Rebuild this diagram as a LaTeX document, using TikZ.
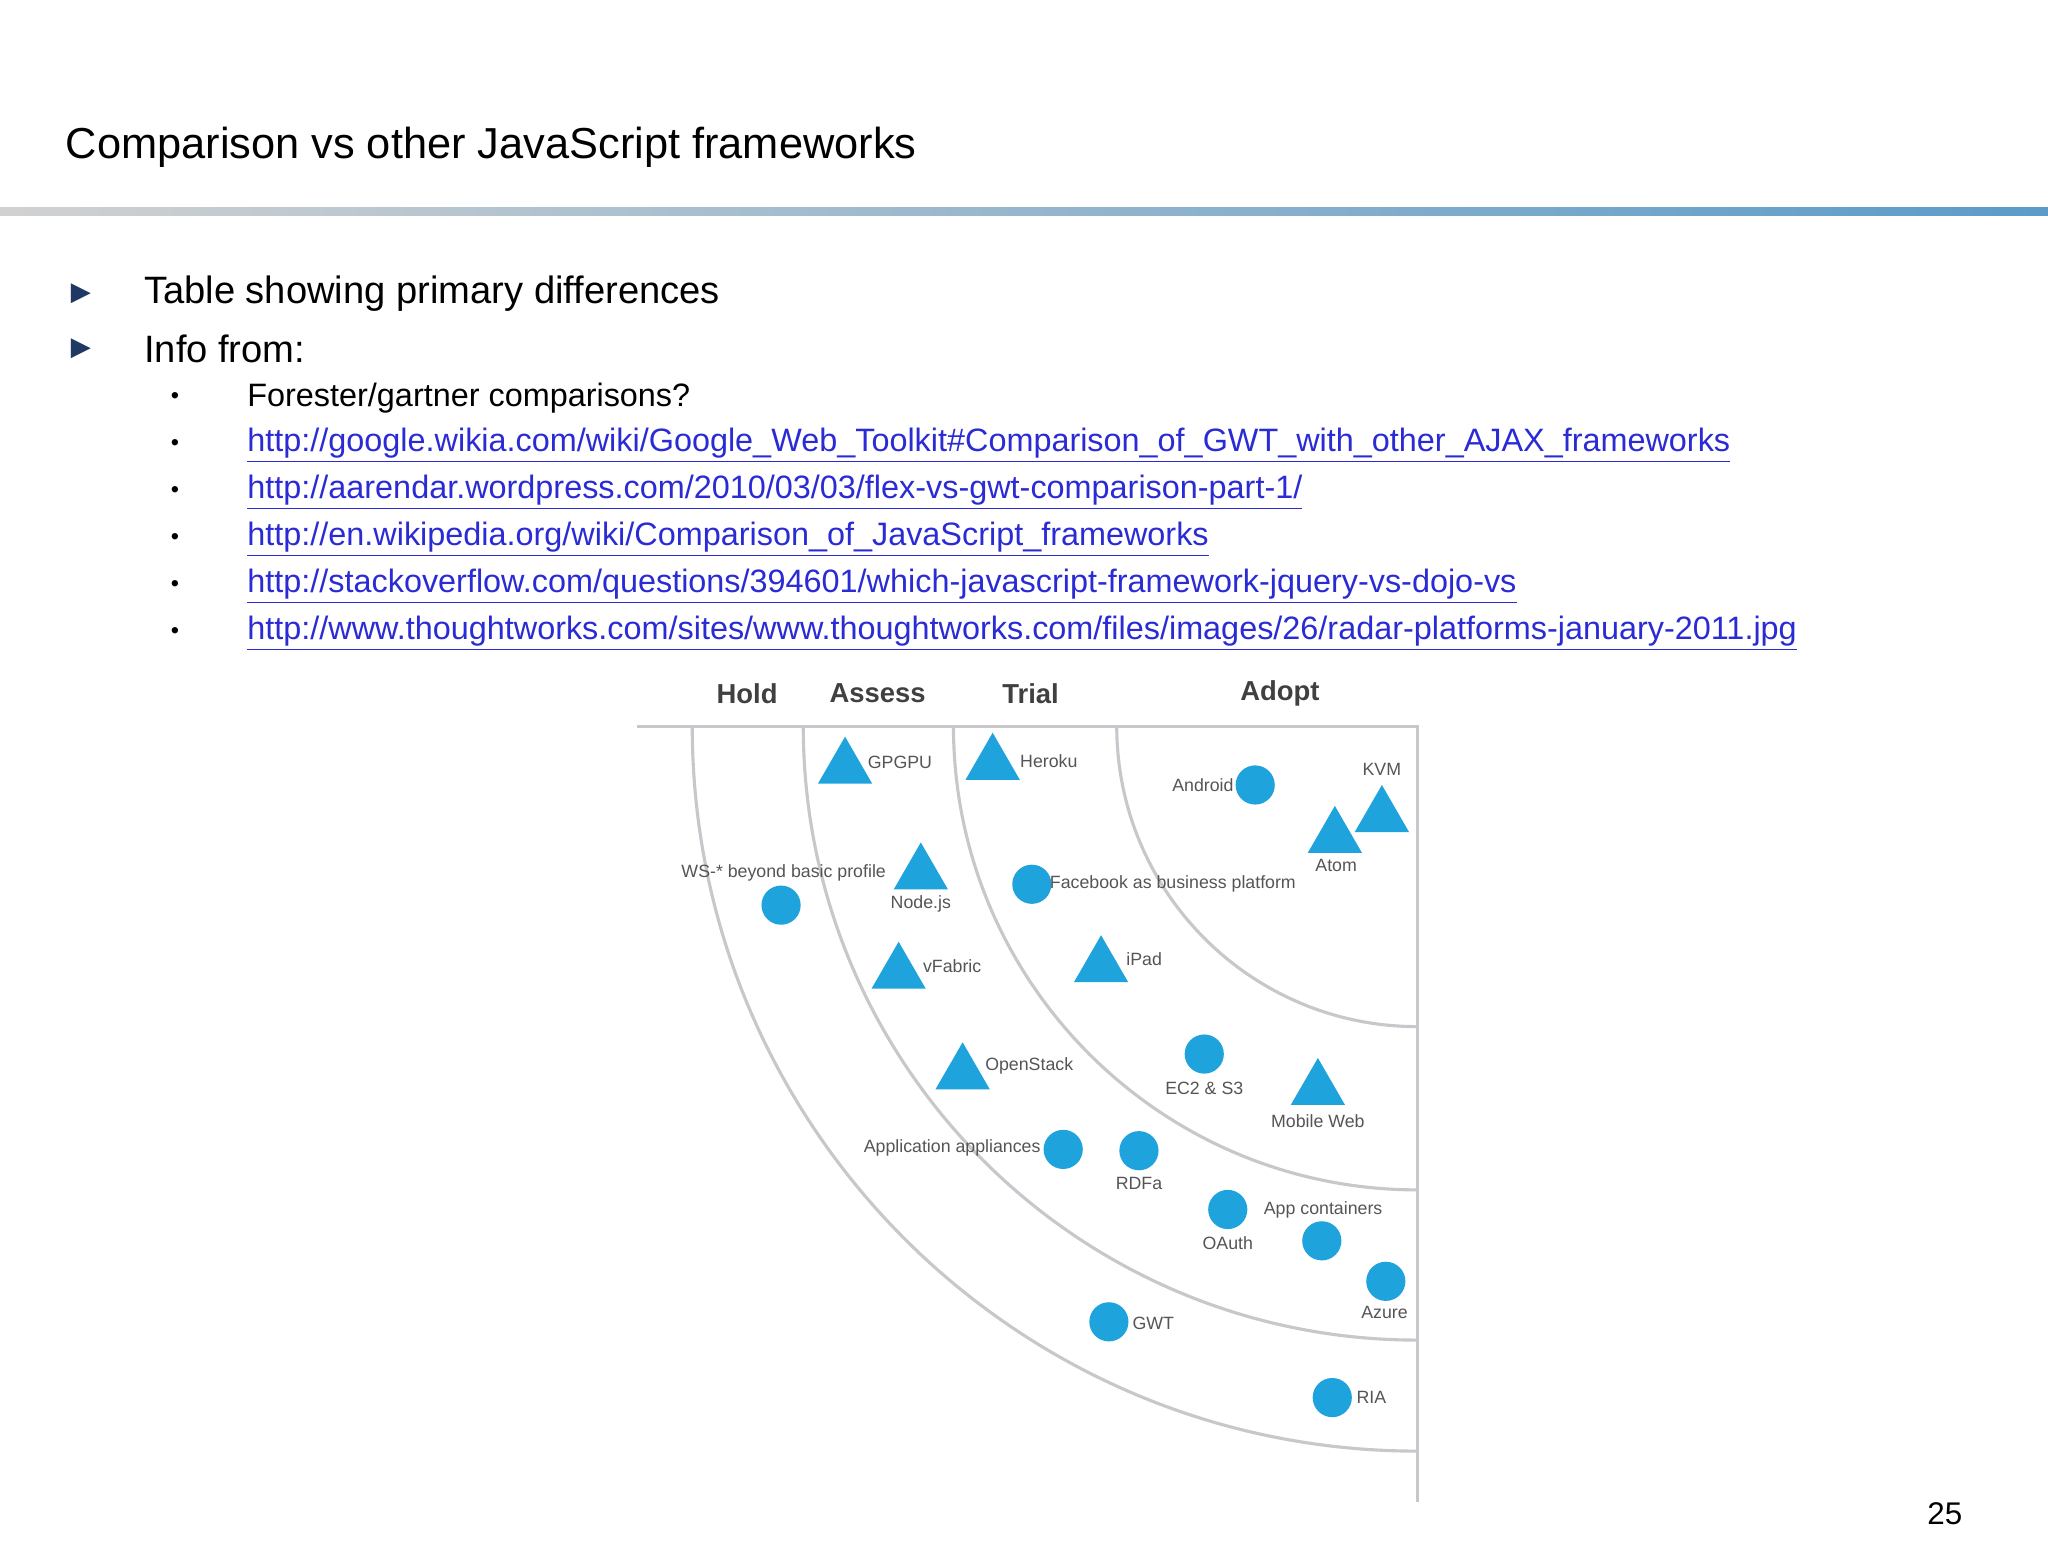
\documentclass[tikz,border=0pt]{standalone}
\usepackage{fontspec}
\usetikzlibrary{shapes.geometric}
\setmainfont{Liberation Sans}
\newfontfamily\dejavu{DejaVu Sans}
\definecolor{radblue}{HTML}{1FA3DC}
\definecolor{linkblue}{HTML}{2B2BD6}
\definecolor{navy}{HTML}{1F3864}
\definecolor{arcgray}{HTML}{C8C8CC}
\definecolor{lblgray}{HTML}{555555}
\definecolor{barblue}{HTML}{5B9BC8}
\begin{document}
\begin{tikzpicture}[x=0.5pt,y=-0.5pt,
  tri/.style={regular polygon,regular polygon sides=3,fill=radblue,inner sep=0pt,minimum size=24pt},
  dot/.style={circle,fill=radblue,inner sep=0pt,minimum size=15pt},
  lbl/.style={font=\fontsize{6.8}{8}\selectfont,text=lblgray,inner sep=1pt},
  hdr/.style={font=\fontsize{10.5}{12}\selectfont\bfseries,text=black!75},
  sub/.style={font=\fontsize{12.4}{14}\selectfont,anchor=west,inner sep=0pt},
  lnk/.style={sub,text=linkblue}]
\useasboundingbox (0,0) rectangle (1568,1194);
\fill[white] (0,0) rectangle (1568,1194);
\shade[left color=black!18,right color=barblue] (0,159) rectangle (1568,165);
\node[anchor=west,inner sep=0pt,font=\fontsize{16.6}{19}\selectfont] (title) at (50,113) {Comparison vs other JavaScript frameworks};
\node[text=navy,font=\dejavu\fontsize{10}{13}\selectfont] (b1) at (62,225) {▶};
\node[text=navy,font=\dejavu\fontsize{10}{13}\selectfont] (b2) at (62,267) {▶};
\node[anchor=west,inner sep=0pt,font=\fontsize{14.6}{17}\selectfont] (t1) at (110,225) {Table showing primary differences};
\node[anchor=west,inner sep=0pt,font=\fontsize{14.6}{17}\selectfont] (t2) at (110,267) {Info from:};
\foreach \y/\n in {305/a,341/b,377/c,413/d,449/e,485/f} \node (s\n) at (134,\y) {\small•};
\node[sub] (l1) at (189,305) {Forester/gartner comparisons?};
\node[lnk] (l2) at (189,341) {\underline{http://google.wikia.com/wiki/Google\_Web\_Toolkit\#Comparison\_of\_GWT\_with\_other\_AJAX\_frameworks}};
\node[lnk] (l3) at (189,377) {\underline{http://aarendar.wordpress.com/2010/03/03/flex-vs-gwt-comparison-part-1/}};
\node[lnk] (l4) at (189,413) {\underline{http://en.wikipedia.org/wiki/Comparison\_of\_JavaScript\_frameworks}};
\node[lnk] (l5) at (189,449) {\underline{http://stackoverflow.com/questions/394601/which-javascript-framework-jquery-vs-dojo-vs}};
\node[lnk] (l6) at (189,485) {\underline{http://www.thoughtworks.com/sites/www.thoughtworks.com/files/images/26/radar-platforms-january-2011.jpg}};
% radar
\coordinate (c) at (1085,556);
\draw[arcgray,line width=1.2pt] (488,556) -- (c) -- (1085,1150);
\foreach \r in {555,470,355,230} \draw[arcgray,line width=1.2pt] (1085-\r,556) arc[start angle=180,end angle=270,x radius=\r,y radius=-\r];
\node[hdr] (h1) at (572,531) {Hold};
\node[hdr] (h2) at (672,531) {Assess};
\node[hdr] (h3) at (789,531) {Trial};
\node[hdr] (h4) at (980,531) {Adopt};
\foreach \x/\y/\n in {647/588/p1,760/585/p2,705/669/p3,688/745/p4,843/740/p5,737/822/p6,1009/834/p7,1022/641/p8,1058/625/p9} \node[tri] (\n) at (\x,\y) {};
\foreach \x/\y/\n in {598/693/q1,961/601/q2,790/677/q3,922/807/q4,814/880/q5,872/881/q6,940/926/q7,1012/950/q8,1061/981/q9,849/1012/q10,1020/1070/q11} \node[dot] (\n) at (\x,\y) {};
\node[lbl] at (689,584) {GPGPU};
\node[lbl] at (803,583) {Heroku};
\node[lbl] at (705,692) {Node.js};
\node[lbl] at (729,740) {vFabric};
\node[lbl] at (876,734) {iPad};
\node[lbl] at (788,816) {OpenStack};
\node[lbl] at (1009,858) {Mobile Web};
\node[lbl] at (1023,663) {Atom};
\node[lbl] at (1058,589) {KVM};
\node[lbl] at (600,668) {WS-* beyond basic profile};
\node[lbl] at (921,601) {Android};
\node[lbl] at (898,677) {Facebook as business platform};
\node[lbl] at (922,833) {EC2 \& S3};
\node[lbl] at (729,879) {Application appliances};
\node[lbl] at (872,906) {RDFa};
\node[lbl] at (940,952) {OAuth};
\node[lbl] at (1013,926) {App containers};
\node[lbl] at (1060,1005) {Azure};
\node[lbl] at (883,1013) {GWT};
\node[lbl] at (1050,1070) {RIA};
\node[font=\fontsize{12}{14}\selectfont] (pg) at (1489,1159) {25};
\end{tikzpicture}
\end{document}
